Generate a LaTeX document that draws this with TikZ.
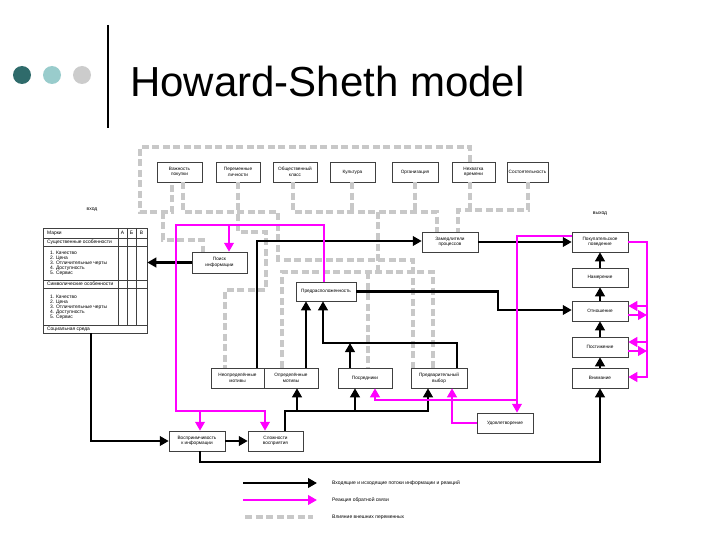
\documentclass[tikz,border=0pt]{standalone}
\usepackage{fontspec}
\setmainfont{Liberation Sans}
\usetikzlibrary{arrows.meta,shadows,calc}
\definecolor{dteal}{HTML}{2F6B6B}
\definecolor{lteal}{HTML}{99CCCC}
\definecolor{lgray}{HTML}{CCCCCC}
\definecolor{dgray}{HTML}{C8C8C8}
\definecolor{mag}{HTML}{FF00FF}
\begin{document}
\begin{tikzpicture}[x=1pt,y=-1pt,
  box/.style={draw=black!75, line width=0.5pt, fill=white, minimum height=20pt, inner sep=0.5pt, align=center,
    font=\fontsize{4.7}{5.5}\selectfont,
    drop shadow={shadow xshift=1.2pt, shadow yshift=-1.2pt, fill=black!45, opacity=1}},
  blk/.style={line width=2.2pt, black, -{Triangle[length=9pt,width=9.5pt]}},
  mg/.style={line width=2.4pt, mag, -{Triangle[length=9pt,width=9.5pt]}},
  ext/.style={line width=3.6pt, dgray, dash pattern=on 7pt off 3.5pt},
  small/.style={font=\fontsize{5}{6}\selectfont, inner sep=0},
  tbltext/.style={font=\fontsize{4.9}{5.1}\selectfont, inner sep=0, anchor=west, align=left}
]
\useasboundingbox (0,0) rectangle (720,540);
% header
\fill[dteal] (22,75) circle (9pt);
\fill[lteal] (52,75) circle (9pt);
\fill[lgray] (82,75) circle (9pt);
\draw[line width=2.5pt] (108,25) -- (108,128);
\node[anchor=base west, inner sep=0, font=\fontsize{42}{48}\selectfont] (title) at (130,97) {Howard-Sheth model};

% top row
\node[box, minimum width=45pt] (imp) at (179.5,172) {Важность\\покупки};
\node[box, minimum width=44pt] (pers) at (238,172) {Переменные\\личности};
\node[box, minimum width=44pt] (cls) at (295,172) {Общественный\\класс};
\node[box, minimum width=45pt] (cult) at (352.5,172) {Культура};
\node[box, minimum width=46pt] (org) at (415,172) {Организация};
\node[box, minimum width=43pt] (time) at (473.5,172) {Нехватка\\времени};
\node[box, minimum width=41pt] (wealth) at (527.5,172) {Состоятельность};

% middle boxes
\node[box, minimum width=55pt, minimum height=21pt] (search) at (219.5,262.5) {Поиск\\информации};
\node[box, minimum width=56pt] (slow) at (450,242) {Замедлители\\процессов};
\node[box, minimum width=60pt, minimum height=19pt] (pred) at (326,291.5) {Предрасположенность};
\node[box, minimum width=53pt] (unc) at (237.5,378) {Неопределённые\\мотивы};
\node[box, minimum width=54pt] (def) at (291,378) {Определённые\\мотивы};
\node[box, minimum width=54pt] (med) at (365,378) {Посредники};
\node[box, minimum width=56pt] (pre) at (439,378) {Предварительный\\выбор};
\node[box, minimum width=56pt] (sat) at (505,423) {Удовлетворение};
\node[box, minimum width=56pt] (recep) at (197,441) {Восприимчивость\\к информации};
\node[box, minimum width=55pt] (perc) at (275.5,441) {Сложности\\восприятия};

% right column
\node[box, minimum width=56pt] (buy) at (600,242) {Покупательское\\поведение};
\node[box, minimum width=56pt, minimum height=19pt] (intent) at (600,277.5) {Намерение};
\node[box, minimum width=56pt] (att) at (600,311) {Отношение};
\node[box, minimum width=56pt] (comp) at (600,347) {Постижение};
\node[box, minimum width=56pt] (attn) at (600,378) {Внимание};

% labels
\node[small] (inlbl) at (92,210) {вход};
\node[small] (outlbl) at (600,214) {выход};

% table
\node[draw=black!75, line width=0.5pt, fill=white, minimum width=104pt, minimum height=105pt, inner sep=0] (tbl) at (95,280.5) {};
\draw[line width=0.4pt, black!75] (43,238) -- (147,238) (43,246) -- (147,246) (43,280) -- (147,280) (43,288) -- (147,288) (43,325) -- (147,325);
\draw[line width=0.4pt, black!75] (118,228) -- (118,325) (127,228) -- (127,325) (136,228) -- (136,325);
\node[tbltext] (tm) at (47,233) {Марки};
\node[small, font=\fontsize{4.9}{5}\selectfont] (ta) at (122.5,233) {А};
\node[small, font=\fontsize{4.9}{5}\selectfont] (tb) at (131.5,233) {Б};
\node[small, font=\fontsize{4.9}{5}\selectfont] (tv) at (141.5,233) {В};
\node[tbltext] (ts1) at (47,242) {Существенные особенности};
\node[tbltext, anchor=north west] (tl1) at (50,250.5) {1. Качество\\2. Цена\\3. Отличительные черты\\4. Доступность\\5. Сервис};
\node[tbltext] (ts2) at (47,284) {Символические особенности};
\node[tbltext, anchor=north west] (tl2) at (50,294.5) {1. Качество\\2. Цена\\3. Отличительные черты\\4. Доступность\\5. Сервис};
\node[tbltext] (ts3) at (47,329) {Социальная среда};

% external influences (dashed)
\draw[ext] (470,0 |- time.north) -- (470,147) -- (140,147) -- (140,212) -- (172,212) -- (172,0 |- imp.south);
\draw[ext] (163,212) -- (163,240) -- (203,240) -- (203,0 |- search.north);
\draw[ext] (183,0 |- imp.south) -- (183,212) -- (278,212) -- (278,260) -- (413,260) -- (413,0 |- pre.north);
\draw[ext] (238,0 |- pers.south) -- (238,232) -- (266,232) -- (266,290) -- (225,290) -- (225,0 |- unc.north);
\draw[ext] (293,0 |- cls.south) -- (293,212) -- (437,212) -- (437,0 |- slow.north);
\draw[ext] (352,0 |- cult.south) -- (352,212);
\draw[ext] (415,0 |- org.south) -- (415,212);
\draw[ext] (378,212) -- (378,272);
\draw[ext] (282,0 |- def.north) -- (282,272) -- (433,272) -- (433,0 |- pre.north);
\draw[ext] (368,272) -- (368,0 |- med.north);
\draw[ext] (470,0 |- time.south) -- (470,210);
\draw[ext] (528,0 |- wealth.south) -- (528,210) -- (458,210) -- (458,0 |- slow.north);

% black flows
\draw[blk] (search.west) -- (tbl.east |- search.west);
\draw[blk] (257,0 |- unc.north) -- (257,241) -- (slow.west |- 0,241);
\draw[blk] (306,0 |- def.north) -- (306,0 |- pred.south);
\draw[blk] (457,0 |- pre.north) -- (457,343) -- (323,343) -- (323,0 |- pred.south);
\draw[blk] (350,0 |- med.north) -- (350,343);
\draw[blk] (pred.east) -- (498,0 |- pred.east) -- (498,310) -- (att.west |- 0,310);
\draw[blk] (slow.east) -- (buy.west |- slow.east);
\draw[blk] (intent.north) -- (buy.south);
\draw[blk] (att.north) -- (intent.south);
\draw[blk] (comp.north) -- (att.south);
\draw[blk] (attn.north) -- (comp.south);
\draw[blk] (200,0 |- recep.south) -- (200,462) -- (600,462) -- (attn.south);
\draw[blk] (91,0 |- tbl.south) -- (91,441) -- (recep.west);
\draw[blk] (recep.east) -- (perc.west);
\draw[blk] (285,0 |- perc.north) -- (285,411) -- (428,411) -- (428,0 |- pre.south);
\draw[blk] (297,411) -- (297,0 |- def.south);
\draw[blk] (355,411) -- (355,0 |- med.south);

% feedback (magenta)
\draw[mg] (324,0 |- pred.north) -- (324,225) -- (176,225) -- (176,411) -- (265,411) -- (265,0 |- perc.north);
\draw[mg] (229,225) -- (229,0 |- search.north);
\draw[mg] (200,411) -- (200,0 |- recep.north);
\draw[mg] (buy.west |- 0,236) -- (517,236) -- (517,0 |- sat.north);
\draw[mg] (517,400) -- (375,400) -- (375,0 |- med.south);
\draw[mg] (sat.west) -- (452,0 |- sat.west) -- (452,0 |- pre.south);
\draw[mg] (buy.east) -- (647,0 |- buy.east) -- (647,377) -- (attn.east |- 0,377);
\draw[mg] (647,306) -- (att.east |- 0,306);
\draw[mg] (att.east |- 0,315) -- (647,315);
\draw[mg] (647,342) -- (comp.east |- 0,342);
\draw[mg] (comp.east |- 0,351) -- (647,351);

% legend
\coordinate (la1) at (243,483); \coordinate (lb1) at (317,483);
\coordinate (la2) at (243,500); \coordinate (lb2) at (317,500);
\coordinate (la3) at (245,517); \coordinate (lb3) at (313,517);
\draw[blk] (la1) -- (lb1);
\draw[mg] (la2) -- (lb2);
\draw[ext] (la3) -- (lb3);
\node[small, anchor=west] (lt1) at (332,483) {Входящие и исходящие потоки информации и реакций};
\node[small, anchor=west] (lt2) at (332,500) {Реакция обратной связи};
\node[small, anchor=west] (lt3) at (332,517) {Влияние внешних переменных};
\end{tikzpicture}
\end{document}
